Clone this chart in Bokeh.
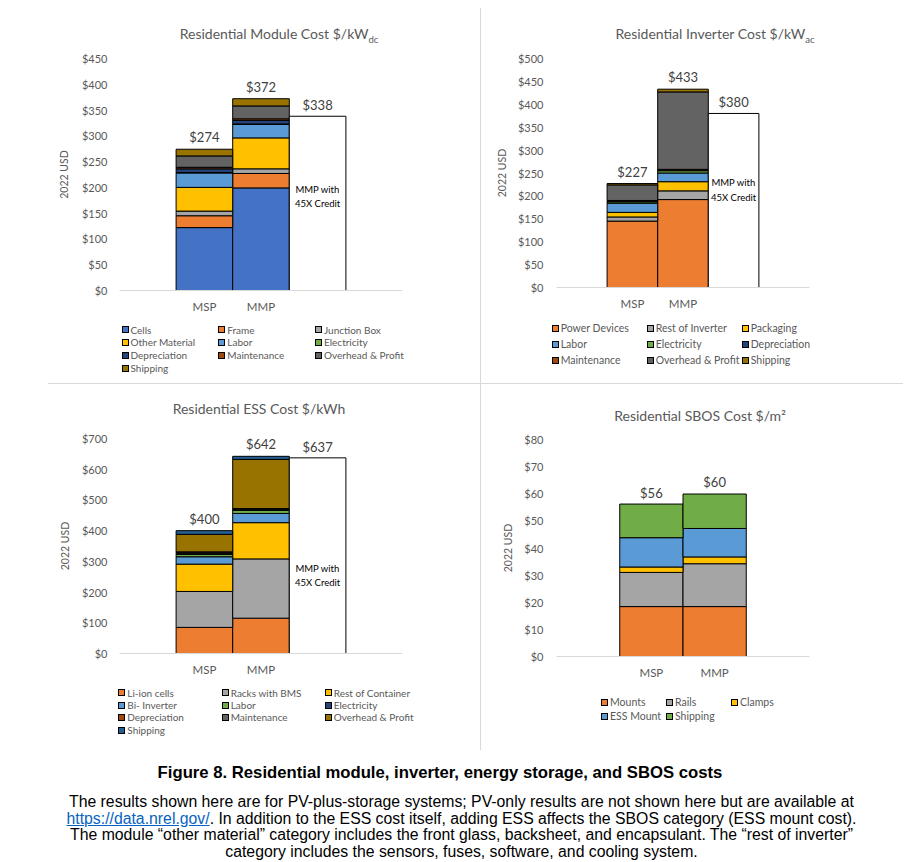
from bokeh.plotting import figure
from bokeh.models import (ColumnDataSource, FactorRange, Range1d, FixedTicker,
                          NumeralTickFormatter, Div)
from bokeh.layouts import row, column
from bokeh.core.properties import value
from bokeh.embed import file_html
from bokeh.resources import INLINE

# ---------------- data ----------------
categories = ["MSP", "MMP"]
credit_note = "MMP with\n45X Credit"

module_parts = ["Cells", "Frame", "Junction Box", "Other Material", "Labor", "Electricity",
                "Depreciation", "Maintenance", "Overhead & Profit", "Shipping"]
module_msp = [122, 23, 9, 46, 28, 1, 7, 3, 22, 13]
module_mmp = [199, 28, 9, 60, 26, 1, 7, 3, 25, 14]
module_totals = [274, 372]
module_credit = 338

inverter_parts = ["Power Devices", "Rest of Inverter", "Packaging", "Labor", "Electricity",
                  "Depreciation", "Maintenance", "Overhead & Profit", "Shipping"]
inverter_msp = [145, 9, 10, 20, 3, 1, 2, 34, 3]
inverter_mmp = [192, 19, 20, 19, 5, 1, 2, 169, 6]
inverter_totals = [227, 433]
inverter_credit = 380

ess_parts = ["Li-ion cells", "Racks with BMS", "Rest of Container", "Bi- Inverter", "Labor",
             "Electricity", "Depreciation", "Maintenance", "Overhead & Profit", "Shipping"]
ess_msp = [85, 117, 89, 24, 8, 2, 3, 3, 57, 12]
ess_mmp = [115, 193, 118, 30, 10, 2, 2, 2, 160, 10]
ess_totals = [400, 642]
ess_credit = 637

sbos_parts = ["Mounts", "Rails", "Clamps", "ESS Mount", "Shipping"]
sbos_msp = [18.4, 12.6, 2.0, 10.8, 12.4]
sbos_mmp = [18.4, 15.8, 2.5, 10.5, 12.7]
sbos_totals = [56, 60]

caption_title = "Figure 8. Residential module, inverter, energy storage, and SBOS costs"
caption_link = "https://data.nrel.gov/"
caption_lines = [
    "The results shown here are for PV-plus-storage systems; PV-only results are not shown here but are available at",
    ". In addition to the ESS cost itself, adding ESS affects the SBOS category (ESS mount cost).",
    "The module \u201cother material\u201d category includes the front glass, backsheet, and encapsulant. The \u201crest of inverter\u201d",
    "category includes the sensors, fuses, software, and cooling system.",
]

# ---------------- styles ----------------
FONT = "Lato"
GREY = "#595959"
ORANGE, GRAY, GOLD, LBLUE, GREEN = "#ED7D31", "#A5A5A5", "#FFC000", "#5B9BD5", "#70AD47"
DBLUE, BROWN, DGRAY, OLIVE, BLUE = "#264478", "#9E480E", "#636363", "#997300", "#4472C4"
RULE = "#D9D9D9"

module_colors = [BLUE, ORANGE, GRAY, GOLD, LBLUE, GREEN, DBLUE, BROWN, DGRAY, OLIVE]
inverter_colors = [ORANGE, GRAY, GOLD, LBLUE, GREEN, DBLUE, BROWN, DGRAY, OLIVE]
ess_colors = [ORANGE, GRAY, GOLD, LBLUE, GREEN, DBLUE, BROWN, DGRAY, OLIVE, "#255E91"]
sbos_colors = [ORANGE, GRAY, GOLD, LBLUE, GREEN]


def title_div(html, width, height, left, top):
    return Div(text=('<div style="margin-left:%dpx;width:300px;text-align:center;'
                     'padding-top:%dpx;line-height:20px;font-family:Lato,sans-serif;'
                     'font-size:14px;color:%s;white-space:nowrap;">%s</div>'
                     % (left, top, GREY, html)),
               width=width, height=height, margin=0)


def build_chart(cfg):
    nslots = cfg["nslots"]
    factors = [" "] + categories + [" " * (i + 2) for i in range(nslots - 3)]
    W, H = cfg["size"]
    bl, br, bt, bb = cfg["borders"]
    ymax, ystep = cfg["ymax"], cfg["ystep"]
    p = figure(width=W, height=H, x_range=FactorRange(factors=factors),
               y_range=Range1d(0, ymax), output_backend="svg", toolbar_location=None,
               min_border_left=bl, min_border_right=br, min_border_top=bt,
               min_border_bottom=bb, title=None)
    p.outline_line_color = None
    p.xgrid.visible = False
    p.ygrid.visible = False
    p.background_fill_color = "white"
    p.border_fill_color = "white"

    ya = p.yaxis[0]
    ya.ticker = FixedTicker(ticks=list(range(0, ymax + 1, ystep)))
    ya.formatter = NumeralTickFormatter(format="$0")
    ya.axis_line_color = None
    ya.major_tick_line_color = None
    ya.minor_tick_line_color = None
    ya.major_tick_out = 0
    ya.major_tick_in = 0
    ya.major_label_standoff = cfg["ystandoff"]
    ya.major_label_text_font = FONT
    ya.major_label_text_font_size = "11px"
    ya.major_label_text_color = GREY
    ya.axis_label = "2022 USD"
    ya.axis_label_standoff = cfg["ylab_standoff"]
    ya.axis_label_text_font = FONT
    ya.axis_label_text_font_size = "10.5px"
    ya.axis_label_text_font_style = "normal"
    ya.axis_label_text_color = GREY

    xa = p.xaxis[0]
    xa.axis_line_color = RULE
    xa.axis_line_width = 1
    xa.major_tick_line_color = None
    xa.minor_tick_line_color = None
    xa.major_tick_out = 0
    xa.major_tick_in = 0
    xa.major_label_standoff = 9
    xa.major_label_text_font = FONT
    xa.major_label_text_font_size = "11.5px"
    xa.major_label_text_color = GREY

    parts = cfg["parts"]
    data = {"cat": categories}
    for name, a, b in zip(parts, cfg["msp"], cfg["mmp"]):
        data[name] = [a, b]
    src = ColumnDataSource(data)
    p.vbar_stack(parts, x="cat", width=1.0, color=cfg["colors"], source=src,
                 line_color="black", line_width=1)

    tsrc = ColumnDataSource({"cat": categories, "total": cfg["totals"],
                             "label": ["$%d" % t for t in cfg["totals"]]})
    p.text(x="cat", y="total", text="label", source=tsrc, text_align="center",
           text_baseline="middle", y_offset=-12, text_font=value(FONT),
           text_font_size="13px", text_color="#404040")

    if cfg.get("credit") is not None:
        csrc = ColumnDataSource({"cat": [factors[3]], "top": [cfg["credit"]],
                                 "label": ["$%d" % cfg["credit"]],
                                 "note": [credit_note], "note_y": [cfg["note_y"]]})
        p.vbar(x="cat", top="top", width=1.0, source=csrc, fill_color="white",
               line_color="black", line_width=1)
        p.text(x="cat", y="top", text="label", source=csrc, text_align="center",
               text_baseline="middle", y_offset=-11, text_font=value(FONT),
               text_font_size="13px", text_color="#404040")
        p.text(x="cat", y="note_y", text="note", source=csrc, text_align="center",
               text_baseline="middle", text_font=value(FONT), text_font_size="9.5px",
               text_color="#000000", text_line_height=1.3)
    return p


def build_legend(cfg):
    W, H = cfg["legend_size"]
    first, rowh = cfg["legend_first"], cfg["legend_rowh"]
    xs = cfg["legend_x"]
    fs = cfg["legend_font"]
    html = ['<div style="position:relative;width:%dpx;height:%dpx;font-family:Lato,sans-serif;'
            'font-size:%s;color:%s;">' % (W, H, fs, GREY)]
    for i, (name, col) in enumerate(zip(cfg["parts"], cfg["colors"])):
        r, c = divmod(i, 3)
        top = first + r * rowh - rowh / 2.0
        html.append(
            '<div style="position:absolute;left:%.1fpx;top:%.1fpx;height:%.1fpx;'
            'line-height:%.1fpx;white-space:nowrap;">'
            '<span style="display:inline-block;box-sizing:border-box;width:7px;height:7px;'
            'border:1px solid #000;background:%s;vertical-align:middle;margin-right:2px;'
            'position:relative;top:-1px;"></span>%s</div>'
            % (xs[c], top, rowh, rowh, col, name))
    html.append('</div>')
    return Div(text="".join(html), width=W, height=H, margin=0)


module_cfg = dict(parts=module_parts, msp=module_msp, mmp=module_mmp, colors=module_colors,
                  totals=module_totals, credit=module_credit, note_y=182,
                  ymax=450, ystep=50, nslots=5, size=(472, 270), borders=(111, 75, 10, 28),
                  ystandoff=12, ylab_standoff=9,
                  legend_size=(472, 65), legend_first=12, legend_rowh=12.9,
                  legend_x=[113.5, 210.3, 307], legend_font="10px")

inverter_cfg = dict(parts=inverter_parts, msp=inverter_msp, mmp=inverter_mmp,
                    colors=inverter_colors, totals=inverter_totals, credit=inverter_credit,
                    note_y=213, ymax=500, ystep=50, nslots=5, size=(434, 270),
                    borders=(75, 106, 10, 31), ystandoff=13, ylab_standoff=7,
                    legend_size=(434, 65), legend_first=10, legend_rowh=16,
                    legend_x=[70.7, 165.7, 260.7], legend_font="10.5px")

ess_cfg = dict(parts=ess_parts, msp=ess_msp, mmp=ess_mmp, colors=ess_colors,
               totals=ess_totals, credit=ess_credit, note_y=255,
               ymax=700, ystep=100, nslots=5, size=(472, 251), borders=(111, 78, 9, 27),
               ystandoff=12, ylab_standoff=8,
               legend_size=(472, 70), legend_first=12.7, legend_rowh=12.45,
               legend_x=[110.3, 213.7, 316.7], legend_font="10px")

sbos_cfg = dict(parts=sbos_parts, msp=sbos_msp, mmp=sbos_mmp, colors=sbos_colors,
                totals=sbos_totals, credit=None,
                ymax=80, ystep=10, nslots=4, size=(434, 255), borders=(75, 87, 10, 28),
                ystandoff=13, ylab_standoff=7,
                legend_size=(434, 66), legend_first=17.7, legend_rowh=14,
                legend_x=[120, 185, 250], legend_font="10.5px")

p_module, l_module = build_chart(module_cfg), build_legend(module_cfg)
p_inverter, l_inverter = build_chart(inverter_cfg), build_legend(inverter_cfg)
p_ess, l_ess = build_chart(ess_cfg), build_legend(ess_cfg)
p_sbos, l_sbos = build_chart(sbos_cfg), build_legend(sbos_cfg)

t_module = title_div('Residential Module Cost $/kW<sub style="font-size:9.5px;line-height:0;">dc</sub>',
                     472, 40, 121, 16)
t_inverter = title_div('Residential Inverter Cost $/kW<sub style="font-size:9.5px;line-height:0;">ac</sub>',
                       434, 40, 84, 16)
t_ess = title_div('Residential ESS Cost $/kWh', 472, 45, 101, 15)
t_sbos = title_div('Residential SBOS Cost $/m\u00b2', 434, 45, 69, 22)

vdiv = Div(text="", width=1, height=742, margin=0, styles={"background-color": RULE})
hdiv_left = Div(text="", width=432, height=1, margin=(0, 0, 0, 40),
                styles={"background-color": RULE})
hdiv_right = Div(text="", width=422, height=1, margin=0,
                 styles={"background-color": RULE})

link_html = ('<a href="%s" style="color:#0563C1;text-decoration:underline;">%s</a>'
             % (caption_link, caption_link))
para = (caption_lines[0] + "<br>" + link_html + caption_lines[1] + "<br>" +
        caption_lines[2] + "<br>" + caption_lines[3])
caption_html = (
    '<div style="width:907px;font-family:\'Liberation Sans\',Arial,sans-serif;color:#000;">'
    '<div style="width:864px;text-align:center;font-weight:bold;font-size:16.7px;'
    'line-height:20px;padding-top:13px;white-space:nowrap;">%s</div>'
    '<div style="text-align:center;font-size:15.8px;line-height:16.7px;padding-top:11px;'
    'white-space:nowrap;">%s</div></div>'
    % (caption_title, para))
caption = Div(text=caption_html, width=907, height=104, margin=0)

left_col = column(t_module, p_module, l_module, hdiv_left, t_ess, p_ess, l_ess)
right_col = column(t_inverter, p_inverter, l_inverter, hdiv_right, t_sbos, p_sbos, l_sbos)
layout = column(row(left_col, vdiv, right_col), caption, margin=(8, 0, 0, 8))

open("out.html", "w").write(file_html(layout, INLINE))
